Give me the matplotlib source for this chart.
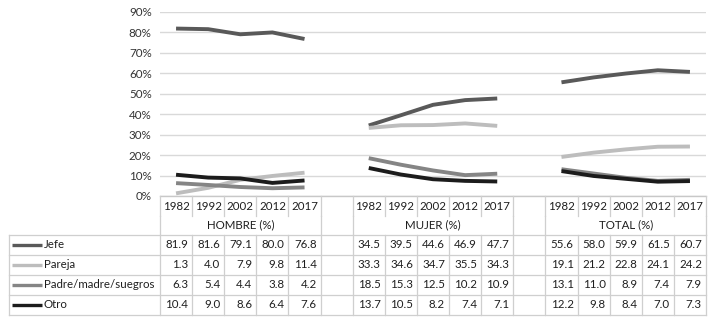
import matplotlib
matplotlib.use("Agg")
import matplotlib.pyplot as plt
import matplotlib.transforms as mtransforms
import numpy as np

plt.rcParams['font.family'] = ['Lato', 'DejaVu Sans']

years = ["1982", "1992", "2002", "2012", "2017"]
groups = ["HOMBRE (%)", "MUJER (%)", "TOTAL (%)"]
series_names = ["Jefe", "Pareja", "Padre/madre/suegros", "Otro"]
colors = ["#595959", "#bdbdbd", "#858585", "#1c1c1c"]

# values per series: HOMBRE, MUJER, TOTAL
jefe = [[81.9, 81.6, 79.1, 80.0, 76.8], [34.5, 39.5, 44.6, 46.9, 47.7], [55.6, 58.0, 59.9, 61.5, 60.7]]
pareja = [[1.3, 4.0, 7.9, 9.8, 11.4], [33.3, 34.6, 34.7, 35.5, 34.3], [19.1, 21.2, 22.8, 24.1, 24.2]]
padre = [[6.3, 5.4, 4.4, 3.8, 4.2], [18.5, 15.3, 12.5, 10.2, 10.9], [13.1, 11.0, 8.9, 7.4, 7.9]]
otro = [[10.4, 9.0, 8.6, 6.4, 7.6], [13.7, 10.5, 8.2, 7.4, 7.1], [12.2, 9.8, 8.4, 7.0, 7.3]]
all_series = [jefe, pareja, padre, otro]

W, H = 713, 322
fig = plt.figure(figsize=(W / 100, H / 100), dpi=100)

ax_left, ax_right, ax_top, ax_bot = 160, 706, 12, 196
ax = fig.add_axes([ax_left / W, 1 - ax_bot / H, (ax_right - ax_left) / W, (ax_bot - ax_top) / H])

nslots = 17
ax.set_xlim(-0.5, nslots - 0.5)
ax.set_ylim(0, 0.9)
ax.set_yticks(np.arange(0, 0.91, 0.1))
ax.set_yticklabels([f"{int(round(v*100))}%" for v in np.arange(0, 0.91, 0.1)], fontsize=8.4, color="#333333")
ax.tick_params(axis='y', length=0, pad=6)
ax.tick_params(axis='x', length=0, labelbottom=False)
ax.set_xticks([])
ax.grid(axis='y', color="#d9d9d9", lw=1)
ax.set_axisbelow(True)
for s in ["top", "left", "right"]:
    ax.spines[s].set_visible(False)
ax.spines["bottom"].set_color("#c8c8c8")
ax.spines["bottom"].set_linewidth(1)

offsets = [0, 6, 12]
for vals, c in zip(all_series, colors):
    for g, off in enumerate(offsets):
        x = off + np.arange(len(years))
        ax.plot(x, np.array(vals[g]) / 100, color=c, lw=2.8, solid_capstyle='butt', solid_joinstyle='round')

# table
tr = mtransforms.blended_transform_factory(ax.transData, fig.transFigure)
def fy(py):
    return 1 - py / H
def fx(px):
    return px / W

bc = "#cfcfcf"
lw_b = 0.9
def vline_data(x, py0, py1):
    fig.add_artist(plt.Line2D([x, x], [fy(py0), fy(py1)], transform=tr, color=bc, lw=lw_b))
def line_fig(px0, px1, py0, py1, **kw):
    fig.add_artist(plt.Line2D([fx(px0), fx(px1)], [fy(py0), fy(py1)], transform=fig.transFigure, **kw))

year_top, year_bot, grp_bot = 196, 216, 234.5
row_edges = [234.5, 254.5, 274.5, 294.5, 314.5]
tbl_left = 9

for k in range(nslots + 1):
    vline_data(k - 0.5, year_top, year_bot)
for k in [-0.5, 4.5, 5.5, 10.5, 11.5, 16.5]:
    vline_data(k, year_bot, grp_bot)
for k in range(nslots + 1):
    vline_data(k - 0.5, row_edges[0], row_edges[-1])
line_fig(tbl_left, tbl_left, row_edges[0], row_edges[-1], color=bc, lw=lw_b)
for py in row_edges:
    line_fig(tbl_left, ax_right, py, py, color=bc, lw=lw_b)

txt_color = "#1f1f1f"
fs = 8.3
for g, off in enumerate(offsets):
    for i, yr in enumerate(years):
        fig.text(off + i, fy(206), yr, transform=tr, ha='center', va='center', fontsize=fs, color=txt_color)
    fig.text(off + 2, fy(225), groups[g], transform=tr, ha='center', va='center', fontsize=fs, color=txt_color)

slot_px = (ax_right - ax_left) / nslots
for r, (name, vals, c) in enumerate(zip(series_names, all_series, colors)):
    yc = (row_edges[r] + row_edges[r + 1]) / 2
    line_fig(12, 42, yc, yc, color=c, lw=2.4, solid_capstyle='butt')
    fig.text(fx(44), fy(yc), name, ha='left', va='center', fontsize=fs, color=txt_color)
    for g, off in enumerate(offsets):
        for i, v in enumerate(vals[g]):
            xr = off + i + 0.5 - 4 / slot_px
            fig.text(xr, fy(yc), f"{v:.1f}", transform=tr, ha='right', va='center', fontsize=fs, color=txt_color)

fig.savefig("out.png", dpi=100, facecolor="white")
